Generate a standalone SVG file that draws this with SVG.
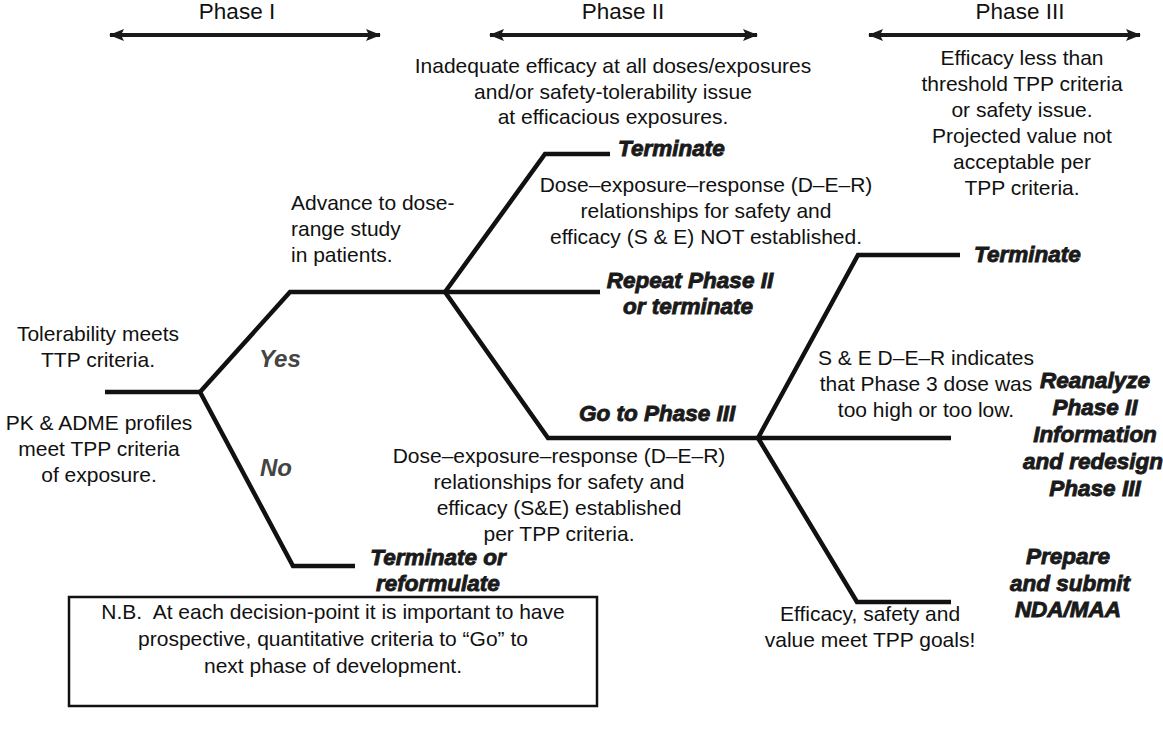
<svg xmlns="http://www.w3.org/2000/svg" width="1163" height="729" viewBox="0 0 1163 729">
<defs>
<marker id="ah" markerUnits="userSpaceOnUse" markerWidth="16" markerHeight="14" refX="14" refY="7" orient="auto-start-reverse">
<path d="M0,1 L15,7 L0,13 L3,7 Z" fill="#1a1a1a"/>
</marker>
<style>
.t{font-family:"Liberation Sans",Arial,sans-serif;font-size:21px;fill:#111;}
.ph{font-family:"Liberation Sans",Arial,sans-serif;font-size:22.5px;fill:#111;text-anchor:middle;}
.m{text-anchor:middle;}
.b{font-family:"Liberation Sans",Arial,sans-serif;font-size:22.5px;font-weight:bold;font-style:italic;fill:#1a1a1a;stroke:#1a1a1a;stroke-width:0.9px;}
.yn{font-family:"Liberation Sans",Arial,sans-serif;font-size:24px;font-weight:bold;font-style:italic;fill:#444;}
.ln{fill:none;stroke:#111;stroke-width:4.5;stroke-linejoin:miter;stroke-linecap:butt;}
.ar{fill:none;stroke:#1a1a1a;stroke-width:4;}
</style>
</defs>
<rect width="1163" height="729" fill="#fff"/>

<g id="phases">
<text class="ph" x="237" y="19">Phase I</text>
<text class="ph" x="623" y="19">Phase II</text>
<text class="ph" x="1020" y="19">Phase III</text>
<line class="ar" x1="110" y1="35" x2="380" y2="35" marker-start="url(#ah)" marker-end="url(#ah)"/>
<line class="ar" x1="490" y1="35" x2="757" y2="35" marker-start="url(#ah)" marker-end="url(#ah)"/>
<line class="ar" x1="869" y1="35" x2="1140" y2="35" marker-start="url(#ah)" marker-end="url(#ah)"/>
</g>

<g id="connectors">
<polyline class="ln" points="105,392 200,392"/>
<polyline class="ln" points="200,392 290,292 445,292"/>
<polyline class="ln" points="200,392 293,566 355,566"/>
<polyline class="ln" points="445,292 545,154 610,154"/>
<polyline class="ln" points="445,292 600,292"/>
<polyline class="ln" points="445,292 548,438 758,438"/>
<polyline class="ln" points="758,438 858,255 960,255"/>
<polyline class="ln" points="758,438 951,438"/>
<polyline class="ln" points="758,438 857,602 951,602"/>
</g>

<g id="start">
<text class="t m" x="98" y="341">Tolerability meets</text>
<text class="t m" x="98" y="367">TTP criteria.</text>
<text class="t m" x="99" y="430">PK &amp; ADME profiles</text>
<text class="t m" x="99" y="456">meet TPP criteria</text>
<text class="t m" x="99" y="482">of exposure.</text>
</g>

<g id="yes-no">
<text class="yn" x="259" y="367">Yes</text>
<text class="yn" x="260" y="476">No</text>
</g>

<g id="advance">
<text class="t" x="291" y="210">Advance to dose-</text>
<text class="t" x="291" y="236">range study</text>
<text class="t" x="291" y="262">in patients.</text>
</g>

<g id="terminate-reformulate">
<text class="b m" x="438" y="565">Terminate or</text>
<text class="b m" x="438" y="591">reformulate</text>
</g>

<g id="phase2-fail">
<text class="t m" x="613" y="73">Inadequate efficacy at all doses/exposures</text>
<text class="t m" x="613" y="99">and/or safety-tolerability issue</text>
<text class="t m" x="613" y="124">at efficacious exposures.</text>
</g>

<g id="terminate-2">
<text class="b" x="618" y="156">Terminate</text>
</g>

<g id="der-not">
<text class="t m" x="706" y="192">Dose–exposure–response (D–E–R)</text>
<text class="t m" x="706" y="218">relationships for safety and</text>
<text class="t m" x="706" y="244">efficacy (S &amp; E) NOT established.</text>
</g>

<g id="repeat">
<text class="b m" x="690" y="288">Repeat Phase II</text>
<text class="b m" x="688" y="314">or terminate</text>
</g>

<g id="go-phase3">
<text class="b" x="579" y="421">Go to Phase III</text>
</g>

<g id="der-ok">
<text class="t m" x="559" y="463">Dose–exposure–response (D–E–R)</text>
<text class="t m" x="559" y="489">relationships for safety and</text>
<text class="t m" x="559" y="515">efficacy (S&amp;E) established</text>
<text class="t m" x="559" y="541">per TPP criteria.</text>
</g>

<g id="phase3-fail">
<text class="t m" x="1022" y="65">Efficacy less than</text>
<text class="t m" x="1022" y="91">threshold TPP criteria</text>
<text class="t m" x="1022" y="117">or safety issue.</text>
<text class="t m" x="1022" y="143">Projected value not</text>
<text class="t m" x="1022" y="169">acceptable per</text>
<text class="t m" x="1022" y="195">TPP criteria.</text>
</g>

<g id="terminate-3">
<text class="b" x="974" y="262">Terminate</text>
</g>

<g id="dose-wrong">
<text class="t m" x="926" y="365">S &amp; E D–E–R indicates</text>
<text class="t m" x="926" y="391">that Phase 3 dose was</text>
<text class="t m" x="926" y="417">too high or too low.</text>
</g>

<g id="reanalyze">
<text class="b m" x="1095" y="388">Reanalyze</text>
<text class="b m" x="1095" y="415">Phase II</text>
<text class="b m" x="1095" y="442">Information</text>
<text class="b m" x="1093" y="469">and redesign</text>
<text class="b m" x="1095" y="496">Phase III</text>
</g>

<g id="submit">
<text class="b m" x="1068" y="564">Prepare</text>
<text class="b m" x="1070" y="591">and submit</text>
<text class="b m" x="1068" y="617">NDA/MAA</text>
</g>

<g id="goals">
<text class="t m" x="870" y="621">Efficacy, safety and</text>
<text class="t m" x="870" y="647">value meet TPP goals!</text>
</g>

<g id="note">
<rect x="69" y="597" width="528" height="109" fill="none" stroke="#111" stroke-width="2.5"/>
<text class="t m" x="333" y="619">N.B.&#160; At each decision-point it is important to have</text>
<text class="t m" x="333" y="646">prospective, quantitative criteria to “Go” to</text>
<text class="t m" x="333" y="673">next phase of development.</text>
</g>
</svg>
